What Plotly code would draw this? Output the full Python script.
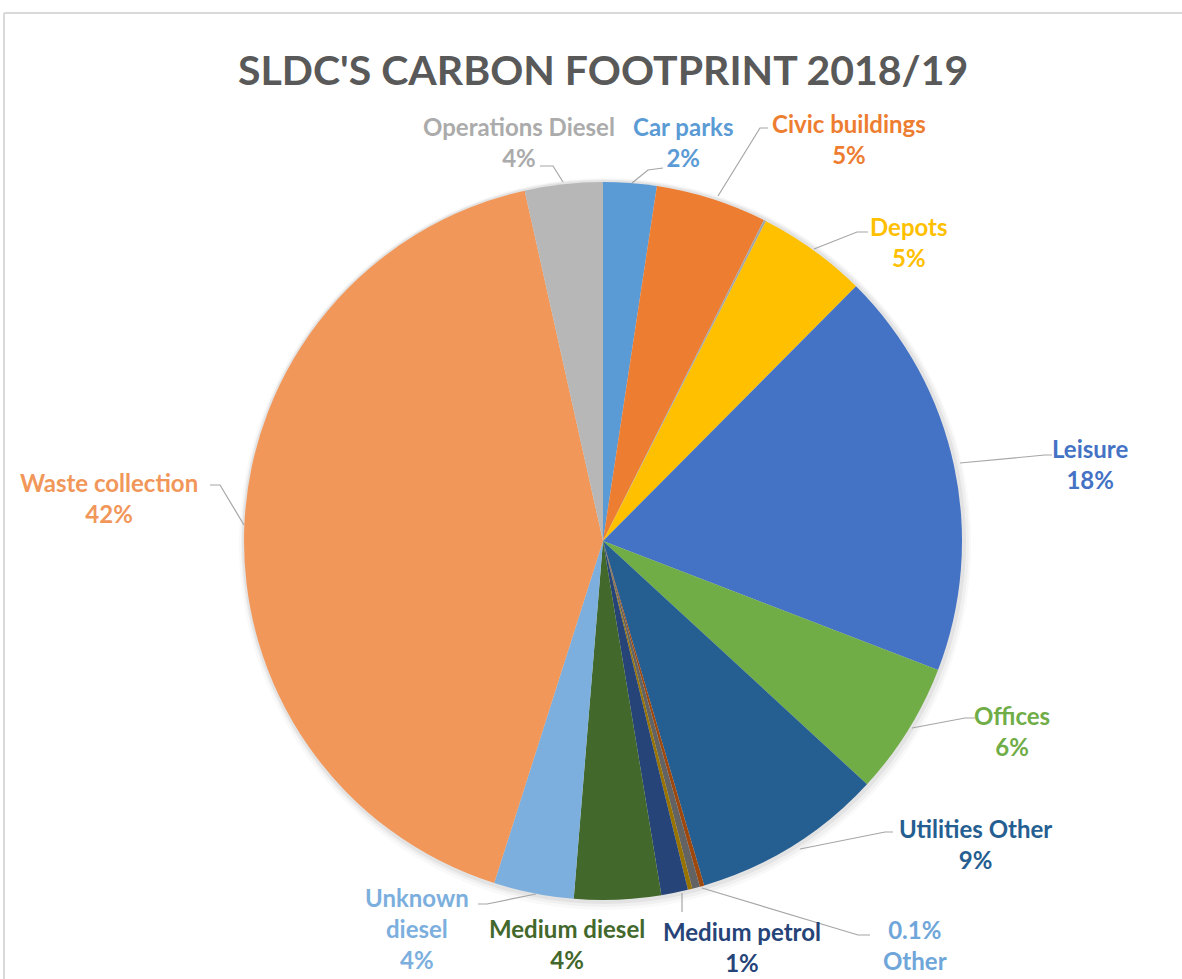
import plotly.graph_objects as go

W, H = 1182, 979

# ---- data ----
categories = ["Car parks", "Civic buildings", "Civic other", "Depots", "Leisure", "Offices",
              "Utilities Other", "Utilities misc", "Misc", "Other", "Medium petrol",
              "Medium diesel", "Unknown diesel", "Waste collection", "Operations Diesel"]
values = [2.4, 5.0, 0.1, 4.95, 18.4, 6.0, 8.6, 0.2, 0.35, 0.2, 1.2, 3.9, 3.6, 41.6, 3.5]
colors = ["#5B9BD5", "#ED7D31", "#A5A5A5", "#FFC000", "#4472C4", "#70AD47",
          "#255E91", "#9E480E", "#636363", "#997300", "#264478",
          "#43682B", "#7CAFDD", "#F1975A", "#B7B7B7"]

label_texts = ["Operations Diesel<br>4%", "Car parks<br>2%", "Civic buildings<br>5%",
               "Depots<br>5%", "Leisure<br>18%", "Offices<br>6%", "Utilities Other<br>9%",
               "0.1%<br>Other", "Medium petrol<br>1%", "Medium diesel<br>4%",
               "Unknown<br>diesel<br>4%", "Waste collection<br>42%"]
label_colors = ["#ABABAB", "#5B9BD5", "#ED7D31", "#FFC000", "#4472C4", "#70AD47",
                "#255E91", "#6FA6DA", "#264478", "#43682B", "#7CAFDD", "#F1975A"]

# ---- layout (pixel positions) ----
label_pos = [(519, 142), (683, 142), (849, 139), (909, 242), (1090, 464), (1012, 731),
             (975, 844), (915, 945), (742, 947), (567, 944), (417, 928), (109, 498)]
leaders = [
    [(540, 166), (553, 166), (563, 182)],
    [(663, 168), (648, 170), (632, 183)],
    [(768, 128), (760, 128), (718, 196)],
    [(868, 232), (857, 232), (814, 249)],
    [(1052, 455), (1045, 455), (960, 463)],
    [(975, 718), (965, 718), (912, 728)],
    [(893, 832), (885, 832), (800, 849)],
    [(870, 935), (858, 935), (702, 888)],
    [(682, 912), (682, 893)],
    [(478, 904), (487, 904), (536, 894)],
    [(210, 485), (220, 485), (244, 525)],
]

def px(x):
    return x / W

def py(y):
    return 1 - y / H

cx, cy, r = 603, 541, 359

fig = go.Figure()
# soft shadow rings behind the pie
for extra, alpha, dx, dy in [(7, 0.025, 2, 3), (5, 0.035, 2, 2), (3, 0.05, 1, 1)]:
    fig.add_trace(go.Pie(
        values=[1], sort=False, textinfo="none", showlegend=False, hoverinfo="skip",
        marker=dict(colors=[f"rgba(0,0,0,{alpha})"], line=dict(width=0)),
        domain=dict(x=[px(cx + dx - r - extra), px(cx + dx + r + extra)],
                    y=[py(cy + dy + r + extra), py(cy + dy - r - extra)]),
    ))

fig.add_trace(go.Pie(
    labels=categories, values=values, sort=False, direction="clockwise", rotation=0,
    marker=dict(colors=colors, line=dict(width=0)),
    textinfo="none", showlegend=False,
    domain=dict(x=[px(cx - r), px(cx + r)], y=[py(cy + r), py(cy - r)]),
))

annotations = [dict(text="<b>SLDC'S CARBON FOOTPRINT 2018/19</b>", x=px(603), y=py(70),
                    xref="paper", yref="paper", showarrow=False, xanchor="center", yanchor="middle",
                    font=dict(family="Lato", size=41, color="#595959"))]
for t, c, (x, y) in zip(label_texts, label_colors, label_pos):
    annotations.append(dict(text="<b>" + t + "</b>", x=px(x), y=py(y), xref="paper", yref="paper",
                            showarrow=False, xanchor="center", yanchor="middle", align="center",
                            font=dict(family="Lato", size=24, color=c)))

shapes = [
    dict(type="line", xref="paper", yref="paper", x0=px(4), y0=py(13), x1=1.0, y1=py(13),
         line=dict(color="#D9D9D9", width=2)),
    dict(type="line", xref="paper", yref="paper", x0=px(4), y0=py(13), x1=px(4), y1=0,
         line=dict(color="#D9D9D9", width=2)),
]
for pts in leaders:
    path = "M " + " L ".join(f"{px(x)},{py(y)}" for x, y in pts)
    shapes.append(dict(type="path", xref="paper", yref="paper", path=path,
                       line=dict(color="#A6A6A6", width=1.2)))

fig.update_layout(width=W, height=H, margin=dict(l=0, r=0, t=0, b=0),
                  paper_bgcolor="white", plot_bgcolor="white",
                  annotations=annotations, shapes=shapes)

fig.write_html("out.html", config={"displayModeBar": False},
               post_script="document.body.style.margin='0';")
